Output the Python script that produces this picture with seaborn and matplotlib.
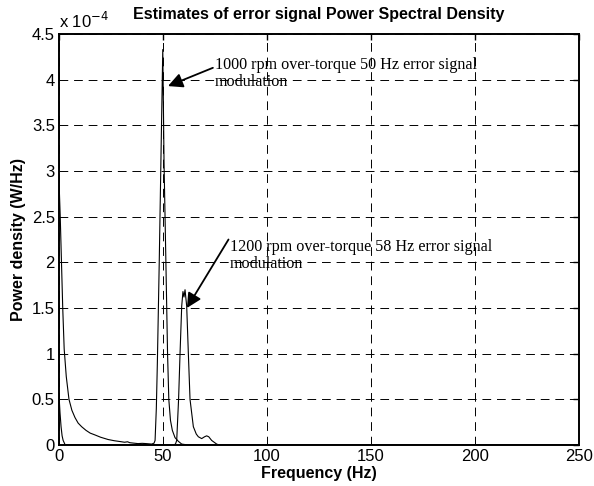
import numpy as np
import pandas as pd
import seaborn as sns
import matplotlib.pyplot as plt

# PSD estimates, values in units of 1e-4 W/Hz
freq_1000 = [0, 0.6, 1.2, 1.8, 2.5, 3.5, 4.8, 6.2, 7.7, 9.2, 10.9, 13, 15, 17.3, 20, 23.6,
             26.5, 29.8, 31.5, 33, 34, 36, 38, 40, 42, 44.6, 45.7, 46.2, 46.8, 47.3, 48.2,
             49, 49.9, 50.5, 51.4, 52.2, 52.8, 53.6, 54.5, 55.8, 57.4, 59, 62, 100, 250]
psd_1000 = [2.9, 2.5, 2.0, 1.5, 1.05, 0.75, 0.5, 0.38, 0.3, 0.24, 0.2, 0.16, 0.13, 0.11, 0.085, 0.06,
            0.047, 0.036, 0.03, 0.035, 0.025, 0.02, 0.015, 0.018, 0.015, 0.01, 0.02, 0.05, 0.4, 0.9, 2.0,
            3.1, 4.33, 3.1, 2.0, 1.0, 0.5, 0.27, 0.16, 0.08, 0.04, 0.01, 0.0, 0.0, 0.0]

freq_1200 = [0, 0.5, 1, 1.5, 2, 3, 20, 55, 56, 56.6, 57.5, 58.2, 59, 59.6, 60.1, 60.6, 61.4,
             62.2, 63, 64.6, 66, 67, 68.6, 70, 71, 72, 73.4, 75.8, 77, 100, 250]
psd_1200 = [0.55, 0.35, 0.2, 0.1, 0.05, 0.0, 0.0, 0.0, 0.01, 0.05, 0.5, 1.0, 1.52, 1.68, 1.62, 1.70, 1.52,
            1.0, 0.5, 0.2, 0.12, 0.09, 0.07, 0.09, 0.1, 0.09, 0.05, 0.01, 0.0, 0.0, 0.0]

xticks = [0, 50, 100, 150, 200, 250]
yticks = [0, 0.5, 1, 1.5, 2, 2.5, 3, 3.5, 4, 4.5]

label_1000 = "1000 rpm over-torque 50 Hz error signal\nmodulation"
label_1200 = "1200 rpm over-torque 58 Hz error signal\nmodulation"

df = pd.concat([
    pd.DataFrame({"freq": freq_1000, "psd": psd_1000, "case": "1000 rpm"}),
    pd.DataFrame({"freq": freq_1200, "psd": psd_1200, "case": "1200 rpm"}),
])

sns.set_style("white")
plt.rcParams["font.family"] = ["Liberation Sans", "DejaVu Sans"]
plt.rcParams.update({"text.color": "black", "axes.labelcolor": "black",
                     "xtick.color": "black", "ytick.color": "black"})

fig = plt.figure(figsize=(5.94, 4.86), dpi=100)
ax = fig.add_axes([0.0993, 0.0844, 0.8754, 0.8456])

sns.lineplot(data=df, x="freq", y="psd", units="case", estimator=None, sort=False,
             color="black", lw=0.8, ax=ax, legend=False)

ax.set_xlim(0, 250)
ax.set_ylim(0, 4.5)
ax.set_xticks(xticks)
ax.set_yticks(yticks)
ax.set_yticklabels([f"{t:g}" for t in yticks])
ax.grid(True, color="black", linestyle=(0, (9, 6)), lw=0.7)
ax.tick_params(direction="in", length=4, width=1, top=True, right=True, labelsize=12, pad=3)
for s in ax.spines.values():
    s.set_linewidth(1.4)
    s.set_color("black")

ax.set_xlabel("Frequency (Hz)", fontsize=11.5, fontweight="bold", labelpad=1)
ax.set_ylabel("Power density (W/Hz)", fontsize=11.5, fontweight="bold", labelpad=4)
ax.set_title("Estimates of error signal Power Spectral Density", fontsize=11.5, fontweight="bold", pad=11)
ax.text(0.0, 1.008, r"x 10$^{-4}$", transform=ax.transAxes, ha="left", va="bottom", fontsize=12)

arrow = dict(arrowstyle="-|>", mutation_scale=22, lw=1.3, color="black", shrinkA=0, shrinkB=0)
ax.annotate("", xy=(52.4, 3.93), xytext=(74.0, 4.13), arrowprops=arrow)
ax.text(75, 4.25, label_1000, ha="left", va="top", fontsize=11.6,
        family=["Liberation Serif", "DejaVu Serif"], linespacing=1.1)
ax.annotate("", xy=(61.5, 1.50), xytext=(81.5, 2.25), arrowprops=arrow)
ax.text(82, 2.26, label_1200, ha="left", va="top", fontsize=11.6,
        family=["Liberation Serif", "DejaVu Serif"], linespacing=1.1)

plt.savefig("out.png", dpi=100)
